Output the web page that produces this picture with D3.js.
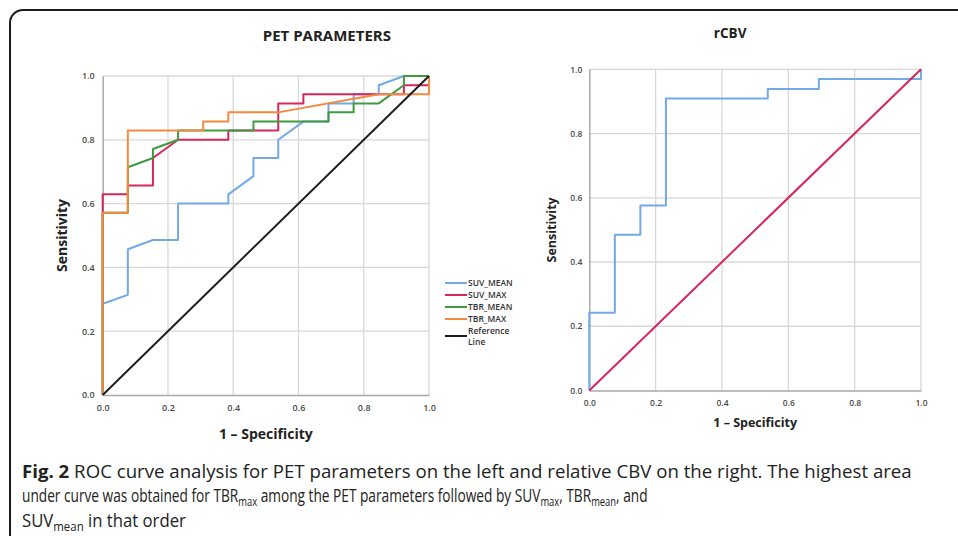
<!DOCTYPE html>
<html>
<head>
<meta charset="utf-8">
<script src="https://cdn.jsdelivr.net/npm/d3@7"></script>
<style>
	body { margin: 0; background: #fff; }
	svg { display: block; }
</style>
</head>
<body>
<svg width="958" height="536"></svg>
<script>
// ROC points [1 - specificity, sensitivity]
const suv_mean = [[0,0],[0,0.286],[0.077,0.314],[0.077,0.457],[0.154,0.486],[0.231,0.486],[0.231,0.6],[0.385,0.6],[0.385,0.629],[0.462,0.686],[0.462,0.743],[0.538,0.743],[0.538,0.8],[0.615,0.857],[0.692,0.857],[0.692,0.914],[0.769,0.914],[0.769,0.943],[0.846,0.943],[0.846,0.971],[0.923,1],[1,1]];
const suv_max = [[0,0],[0,0.629],[0.077,0.629],[0.077,0.657],[0.154,0.657],[0.154,0.743],[0.231,0.8],[0.385,0.8],[0.385,0.829],[0.538,0.829],[0.538,0.914],[0.615,0.914],[0.615,0.943],[0.923,0.943],[0.923,0.971],[1,0.971],[1,1]];
const tbr_mean = [[0,0],[0,0.571],[0.077,0.571],[0.077,0.714],[0.154,0.743],[0.154,0.771],[0.231,0.8],[0.231,0.829],[0.462,0.829],[0.462,0.857],[0.692,0.857],[0.692,0.886],[0.769,0.886],[0.769,0.914],[0.846,0.914],[0.923,0.971],[0.923,1],[1,1]];
const tbr_max = [[0,0],[0,0.571],[0.077,0.571],[0.077,0.829],[0.308,0.829],[0.308,0.857],[0.385,0.857],[0.385,0.886],[0.538,0.886],[0.846,0.943],[1,0.943],[1,1]];
const reference_line = [[0,0],[1,1]];
const rcbv = [[0,0],[0,0.242],[0.077,0.242],[0.077,0.485],[0.154,0.485],[0.154,0.576],[0.231,0.576],[0.231,0.909],[0.538,0.909],[0.538,0.939],[0.692,0.939],[0.692,0.97],[1,0.97],[1,1]];

const pet_names = ["SUV_MEAN", "SUV_MAX", "TBR_MEAN", "TBR_MAX", "Reference Line"];
const pet_colors = ["#72a9e6", "#d7265d", "#3f9b3f", "#f28a3f", "#1e1e1e"];
const ticks = [0, 0.2, 0.4, 0.6, 0.8, 1.0];

let svg = d3.select("svg");

// frame round the figure
svg.append("path")
	.attr("d", "M 10 540 L 10 23 A 13 13 0 0 1 23 10 L 962 10")
	.attr("fill", "none")
	.attr("stroke", "#1b1b1b")
	.attr("stroke-width", 2);

function draw_roc(conf) {
	let x = d3.scaleLinear().domain([0, 1]).range(conf.x_range);
	let y = d3.scaleLinear().domain([0, 1]).range(conf.y_range);
	let g = svg.append("g");

	g.append("g")
		.selectAll("line.gx")
		.data(ticks.slice(1))
		.enter()
		.append("line")
		.attr("x1", d => x(d)).attr("x2", d => x(d))
		.attr("y1", y(0)).attr("y2", y(1))
		.attr("stroke", "#d8d8d8").attr("stroke-width", 1.3);
	g.append("g")
		.selectAll("line.gy")
		.data(ticks.slice(1))
		.enter()
		.append("line")
		.attr("y1", d => y(d)).attr("y2", d => y(d))
		.attr("x1", x(0)).attr("x2", x(1))
		.attr("stroke", "#d8d8d8").attr("stroke-width", 1.3);

	let x_axis = g.append("g")
		.attr("transform", "translate(0," + y(0) + ")")
		.call(d3.axisBottom(x).tickValues(ticks).tickFormat(d3.format(".1f")).tickSize(0).tickPadding(conf.pad));
	let y_axis = g.append("g")
		.attr("transform", "translate(" + x(0) + ",0)")
		.call(d3.axisLeft(y).tickValues(ticks).tickFormat(d3.format(".1f")).tickSize(0).tickPadding(conf.pad - 2));
	[x_axis, y_axis].forEach(function(a) {
		a.select(".domain").attr("stroke", "#a9a9a9").attr("stroke-width", 1.5);
		a.selectAll("text")
			.attr("fill", "#4a4a4a")
			.style("font-family", "'Open Sans', sans-serif")
			.style("font-size", conf.tick_size + "px")
			.style("font-weight", 600);
	});

	let line_generator = d3.line()
		.x(function(d) { return x(d[0]) })
		.y(function(d) { return y(d[1]) });

	g.selectAll(".curve")
		.data(conf.series)
		.enter()
		.append("path")
		.attr("class", "curve")
		.attr("d", d => line_generator(d.points))
		.attr("fill", "none")
		.attr("stroke", d => d.color)
		.attr("stroke-width", 2)
		.attr("stroke-linejoin", "round");

	g.append("text")
		.attr("x", (conf.x_range[0] + conf.x_range[1]) / 2 + conf.title_dx)
		.attr("y", conf.title_y)
		.attr("text-anchor", "middle")
		.style("font-family", "'Open Sans', sans-serif")
		.style("font-weight", 700)
		.style("font-size", conf.title_size + "px")
		.attr("fill", "#222")
		.text(conf.title);
	g.append("text")
		.attr("x", (conf.x_range[0] + conf.x_range[1]) / 2)
		.attr("y", conf.xlab_y)
		.attr("text-anchor", "middle")
		.style("font-family", "'Open Sans', sans-serif")
		.style("font-weight", 700)
		.style("font-size", conf.lab_size + "px")
		.attr("fill", "#222")
		.text("1 \u2013 Specificity");
	g.append("text")
		.attr("transform", "translate(" + conf.ylab_x + "," + (conf.y_range[0] + conf.y_range[1]) / 2 + ") rotate(-90)")
		.attr("text-anchor", "middle")
		.style("font-family", "'Open Sans', sans-serif")
		.style("font-weight", 700)
		.style("font-size", conf.lab_size + "px")
		.attr("fill", "#222")
		.text("Sensitivity");
}

let pet_series = [suv_mean, suv_max, tbr_mean, tbr_max, reference_line].map(function(p, i) {
	return { name: pet_names[i], color: pet_colors[i], points: p };
});

draw_roc({
	x_range: [102.7, 429], y_range: [395, 76],
	series: pet_series, title: "PET PARAMETERS", title_size: 15, title_y: 41, title_dx: 61,
	lab_size: 14, xlab_y: 439, ylab_x: 67, tick_size: 9, pad: 10
});

draw_roc({
	x_range: [589.3, 921], y_range: [390.5, 69.3],
	series: [{ name: "rCBV", color: "#72a9e6", points: rcbv }, { name: "Reference Line", color: "#d7265d", points: reference_line }],
	title: "rCBV", title_size: 13.5, title_y: 38, title_dx: -25,
	lab_size: 12.5, xlab_y: 427, ylab_x: 556, tick_size: 8.5, pad: 9
});

// legend of the left chart
let legend = svg.append("g").attr("transform", "translate(445,283)");
let legend_item = legend.selectAll(".item")
	.data(pet_series)
	.enter()
	.append("g")
	.attr("class", "item")
	.attr("transform", (d, i) => "translate(0," + (i * 12) + ")");
legend_item.append("line")
	.attr("x1", 0).attr("x2", 22)
	.attr("y1", (d, i) => i == 4 ? 5 : 0).attr("y2", (d, i) => i == 4 ? 5 : 0)
	.attr("stroke", d => d.color).attr("stroke-width", 2);
legend_item.each(function(d) {
	let words = d.name == "Reference Line" ? ["Reference", "Line"] : [d.name];
	d3.select(this).selectAll("text")
		.data(words)
		.enter()
		.append("text")
		.attr("x", 23)
		.attr("y", (w, j) => 3 + j * 10.5)
		.style("font-family", "'Open Sans', sans-serif")
		.style("font-weight", 600)
		.style("font-size", "8.5px")
		.attr("fill", "#333")
		.text(w => w);
});

// caption
let caption_lines = [
	[["Fig. 2", "b"], [" ROC curve analysis for PET parameters on the left and relative CBV on the right. The highest area", ""]],
	[["under curve was obtained for TBR", ""], ["max", "s"], [" among the PET parameters followed by SUV", ""], ["max", "s"], [", TBR", ""], ["mean", "s"], [", and", ""]],
	[["SUV", ""], ["mean", "s"], [" in that order", ""]]
];
// right end of each printed line
const caption_ends = [912, 648, 186];

caption_lines.forEach(function(parts, i) {
	let t = svg.append("text")
		.attr("x", 22)
		.attr("y", 478 + i * 24.5)
		.style("font-family", "'Open Sans', sans-serif")
		.style("font-size", "17.5px")
		.attr("fill", "#222");
	let shifted = false;
	parts.forEach(function(p) {
		let s = t.append("tspan").text(p[0]);
		if (p[1] == "b") s.style("font-weight", 700);
		if (p[1] == "s") {
			s.style("font-size", "12px").attr("dy", shifted ? 0 : 4);
			shifted = true;
		} else if (shifted) {
			s.attr("dy", -4);
			shifted = false;
		}
	});
	// the printed caption uses a condensed face; squeeze each line to its printed width
	let k = (caption_ends[i] - 22) / t.node().getComputedTextLength();
	t.attr("transform", "translate(22,0) scale(" + k + ",1) translate(-22,0)");
});
</script>
</body>
</html>
